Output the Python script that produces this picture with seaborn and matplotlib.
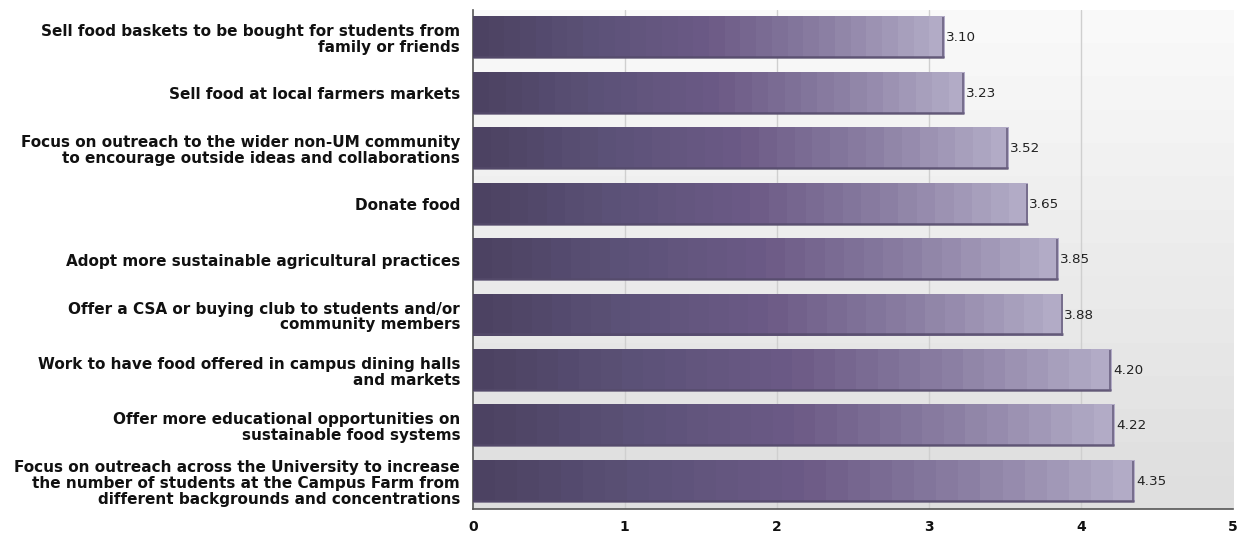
import numpy as np
import pandas as pd
import matplotlib
matplotlib.use("Agg")
import matplotlib.pyplot as plt
from matplotlib.colors import LinearSegmentedColormap
import seaborn as sns

categories = [
    "Sell food baskets to be bought for students from\nfamily or friends",
    "Sell food at local farmers markets",
    "Focus on outreach to the wider non-UM community\nto encourage outside ideas and collaborations",
    "Donate food",
    "Adopt more sustainable agricultural practices",
    "Offer a CSA or buying club to students and/or\ncommunity members",
    "Work to have food offered in campus dining halls\nand markets",
    "Offer more educational opportunities on\nsustainable food systems",
    "Focus on outreach across the University to increase\nthe number of students at the Campus Farm from\ndifferent backgrounds and concentrations",
]
scores = [3.10, 3.23, 3.52, 3.65, 3.85, 3.88, 4.20, 4.22, 4.35]
x_ticks = [0, 1, 2, 3, 4, 5]

sns.set_theme(style="white")
plt.rcParams["font.family"] = ["DejaVu Sans"]

df = pd.DataFrame({"item": categories, "score": scores})

fig = plt.figure(figsize=(12.44, 5.33), dpi=100)
ax = fig.add_axes([0.380, 0.045, 0.611, 0.936])

sns.barplot(data=df, y="item", x="score", orient="h", width=0.74,
            color="#6a5a84", ax=ax, zorder=3)

ax.set_xlim(0, 5)
n = len(categories)
ax.set_ylim(n - 0.5, -0.5)

# stepped vertical background gradient, light at top to grey at bottom
steps = 15
bg = np.linspace(0, 1, steps).reshape(-1, 1)
bg_cmap = LinearSegmentedColormap.from_list("bg", ["#f9f9f9", "#dfdfdf"])
ax.imshow(bg, cmap=bg_cmap, aspect="auto", extent=(0, 5, n - 0.5, -0.5),
          interpolation="nearest", zorder=0)

for xv in x_ticks[1:-1]:
    ax.axvline(xv, color="#cfcfcf", lw=1.0, zorder=1)

# horizontal stepped gradient inside each bar
bar_cmap = LinearSegmentedColormap.from_list(
    "bar", ["#4c4262", "#5c5278", "#6c5a86", "#8a7ea2", "#b2abc6"])
grad = np.linspace(0, 1, 30).reshape(1, -1)
for patch, val in zip(ax.patches, scores):
    x0, y0 = patch.get_x(), patch.get_y()
    w, h = patch.get_width(), patch.get_height()
    patch.set_facecolor("none")
    patch.set_edgecolor("none")
    ax.imshow(grad, cmap=bar_cmap, aspect="auto",
              extent=(x0, x0 + w, y0 + h, y0), interpolation="nearest",
              zorder=3)
    # darker lower and right edges
    ax.plot([x0, x0 + w], [y0 + h - 0.02, y0 + h - 0.02], color="#554b6b",
            lw=1.8, alpha=0.85, zorder=4, solid_capstyle="butt")
    ax.plot([x0 + w - 0.006, x0 + w - 0.006], [y0, y0 + h], color="#6a6080",
            lw=1.3, alpha=0.9, zorder=4, solid_capstyle="butt")
    ax.text(x0 + w + 0.012, y0 + h / 2, f"{val:.2f}", va="center", ha="left",
            fontsize=9.7, color="#222222", zorder=5)

ax.set_xlim(0, 5)
ax.set_ylim(n - 0.5, -0.5)
ax.set_xticks(x_ticks)
ax.set_xticklabels([str(t) for t in x_ticks], fontweight="bold", fontsize=10,
                   color="#111111")
ax.set_yticks(range(n))
ax.set_yticklabels(categories, fontweight="bold", fontsize=11,
                   linespacing=1.08, color="#111111")
ax.set_xlabel("")
ax.set_ylabel("")

for side in ("top", "right"):
    ax.spines[side].set_visible(False)
for side in ("left", "bottom"):
    ax.spines[side].set_color("#555555")
    ax.spines[side].set_linewidth(1.2)
ax.tick_params(axis="both", which="both", direction="out", length=5,
               width=1, color="#555555", pad=3)
ax.tick_params(axis="y", pad=4)
ax.grid(False)

fig.savefig("out.png", dpi=100)
